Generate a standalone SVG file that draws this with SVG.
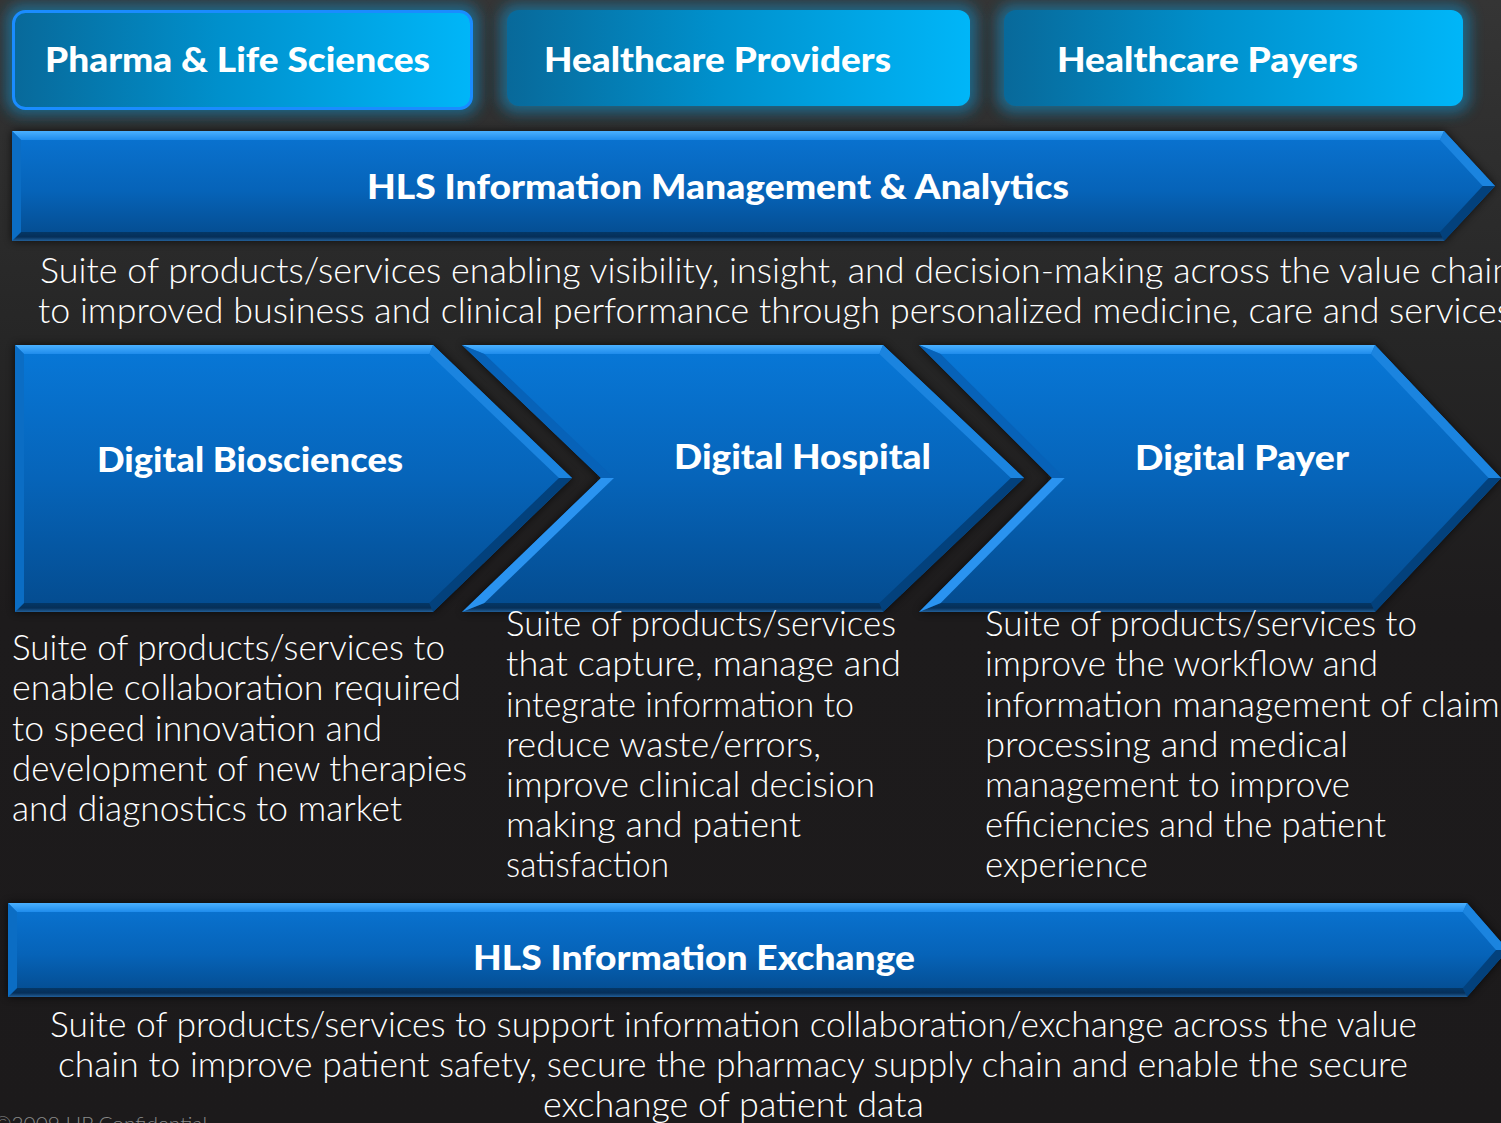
<svg xmlns="http://www.w3.org/2000/svg" width="1501" height="1123" viewBox="0 0 1501 1123">
<defs>
<linearGradient id="bg" x1="0" y1="0" x2="0" y2="1">
<stop offset="0" stop-color="#353535"/>
<stop offset="0.3" stop-color="#262626"/>
<stop offset="0.55" stop-color="#1d1b1c"/>
<stop offset="1" stop-color="#1c1a1b"/>
</linearGradient>
<linearGradient id="boxg" x1="0" y1="0" x2="1" y2="0">
<stop offset="0" stop-color="#08699a"/>
<stop offset="0.45" stop-color="#0090cc"/>
<stop offset="1" stop-color="#00b6f8"/>
</linearGradient>
<linearGradient id="chev" x1="0" y1="0" x2="0" y2="1">
<stop offset="0" stop-color="#0878d8"/>
<stop offset="0.5" stop-color="#0664b9"/>
<stop offset="1" stop-color="#044b8e"/>
</linearGradient>
<linearGradient id="ban" x1="0" y1="0" x2="0" y2="1">
<stop offset="0" stop-color="#0a74d2"/>
<stop offset="0.55" stop-color="#0663b8"/>
<stop offset="1" stop-color="#044a8c"/>
</linearGradient>
<linearGradient id="topband" x1="0" y1="0" x2="0" y2="1">
<stop offset="0" stop-color="#4ab0ff"/>
<stop offset="1" stop-color="#1f8cec"/>
</linearGradient>
<linearGradient id="botband" x1="0" y1="0" x2="0" y2="1">
<stop offset="0" stop-color="#043766"/>
<stop offset="0.55" stop-color="#062f58"/>
<stop offset="1" stop-color="#225f98"/>
</linearGradient>
<filter id="glow" x="-10%" y="-40%" width="120%" height="180%">
<feGaussianBlur stdDeviation="7"/>
</filter>
<filter id="shadow" x="-5%" y="-10%" width="110%" height="120%">
<feGaussianBlur stdDeviation="4"/>
</filter>
<style>
.title{font-family:Lato,"Open Sans","Liberation Sans",sans-serif;font-weight:900;fill:#ffffff;font-size:34px}
.body{font-family:Lato,"Open Sans","Liberation Sans",sans-serif;font-weight:300;fill:#ffffff;font-size:36px}
.foot{font-family:Lato,"Open Sans","Liberation Sans",sans-serif;font-weight:300;fill:#8a8a8a;font-size:20px}
.bt{fill:url(#topband)}
.bur{fill:#1b84df}
.blr{fill:#03417c}
.bb{fill:url(#botband)}
.bl{fill:#0b6dc4}
.bnl{fill:#2a93f0}
.bnu{fill:#0762b8}
.halo{fill:#1f7096;opacity:0.85}
.shd{fill:#111111;opacity:0.7}
</style>
</defs>
<rect x="0" y="0" width="1501" height="1123" fill="url(#bg)"/>

<g id="node-pharma">
<rect class="halo" x="6" y="4" width="473" height="111" rx="16" filter="url(#glow)"/>
<rect x="13.5" y="11.5" width="458" height="97" rx="12" fill="url(#boxg)" stroke="#1a8cff" stroke-width="3"/>
<text class="title" x="45" y="72" textLength="385" lengthAdjust="spacingAndGlyphs">Pharma &amp; Life Sciences</text>
</g>

<g id="node-providers">
<rect class="halo" x="500" y="4" width="477" height="109" rx="16" filter="url(#glow)"/>
<rect x="507" y="10" width="463" height="96" rx="12" fill="url(#boxg)"/>
<text class="title" x="544" y="72" textLength="347" lengthAdjust="spacingAndGlyphs">Healthcare Providers</text>
</g>

<g id="node-payers">
<rect class="halo" x="997" y="4" width="473" height="109" rx="16" filter="url(#glow)"/>
<rect x="1004" y="10" width="459" height="96" rx="12" fill="url(#boxg)"/>
<text class="title" x="1057" y="72" textLength="301" lengthAdjust="spacingAndGlyphs">Healthcare Payers</text>
</g>

<g id="node-hls-ima">
<polygon class="shd" points="12,131 1444,131 1495,186 1444,241 12,241" filter="url(#shadow)"/>
<polygon points="12,131 1444,131 1495,186 1444,241 12,241" fill="url(#ban)"/>
<polygon class="bt" points="12,131 1444,131 1440,140 21,140"/>
<polygon class="bur" points="1444,131 1495,186 1482.7,186 1440,140"/>
<polygon class="blr" points="1495,186 1444,241 1440,232 1482.7,186"/>
<polygon class="bb" points="1444,241 12,241 21,232 1440,232"/>
<polygon class="bl" points="12,241 12,131 21,140 21,232"/>
<text class="title" x="367" y="199" textLength="702" lengthAdjust="spacingAndGlyphs">HLS Information Management &amp; Analytics</text>
<text class="body" x="40" y="283" textLength="1472" lengthAdjust="spacingAndGlyphs">Suite of products/services enabling visibility, insight, and decision-making across the value chain</text>
<text class="body" x="38" y="323" textLength="1474" lengthAdjust="spacingAndGlyphs">to improved business and clinical performance through personalized medicine, care and services</text>
</g>

<g id="node-biosciences">
<polygon class="shd" points="15,345 433,345 572,478 433,612 15,612" filter="url(#shadow)"/>
<polygon points="15,345 433,345 572,478 433,612 15,612" fill="url(#chev)"/>
<polygon class="bt" points="15,345 433,345 429.4,354 24,354"/>
<polygon class="bur" points="433,345 572,478 559,478 429.4,354"/>
<polygon class="blr" points="572,478 433,612 429.4,603 559,478"/>
<polygon class="bb" points="433,612 15,612 24,603 429.4,603"/>
<polygon class="bl" points="15,612 15,345 24,354 24,603"/>
<text class="title" x="97" y="472" textLength="306" lengthAdjust="spacingAndGlyphs">Digital Biosciences</text>
<text class="body" x="12" y="660" textLength="433" lengthAdjust="spacingAndGlyphs">Suite of products/services to</text>
<text class="body" x="12" y="700" textLength="449" lengthAdjust="spacingAndGlyphs">enable collaboration required</text>
<text class="body" x="12" y="741" textLength="370" lengthAdjust="spacingAndGlyphs">to speed innovation and</text>
<text class="body" x="12" y="781" textLength="455" lengthAdjust="spacingAndGlyphs">development of new therapies</text>
<text class="body" x="12" y="821" textLength="390" lengthAdjust="spacingAndGlyphs">and diagnostics to market</text>
</g>

<g id="node-hospital">
<polygon class="shd" points="462,345 883,345 1024,478 883,612 462,612 601,478" filter="url(#shadow)"/>
<polygon points="462,345 883,345 1024,478 883,612 462,612 601,478" fill="url(#chev)"/>
<polygon class="bt" points="462,345 883,345 879.4,354 484.4,354"/>
<polygon class="bur" points="883,345 1024,478 1010.9,478 879.4,354"/>
<polygon class="blr" points="1024,478 883,612 879.4,603 1010.9,478"/>
<polygon class="bb" points="883,612 462,612 484.4,603 879.4,603"/>
<polygon class="bnl" points="462,612 601,478 614,478 484.4,603"/>
<polygon class="bnu" points="601,478 462,345 484.4,354 614,478"/>
<text class="title" x="674" y="469" textLength="257" lengthAdjust="spacingAndGlyphs">Digital Hospital</text>
<text class="body" x="506" y="636" textLength="390" lengthAdjust="spacingAndGlyphs">Suite of products/services</text>
<text class="body" x="506" y="676" textLength="395" lengthAdjust="spacingAndGlyphs">that capture, manage and</text>
<text class="body" x="506" y="717" textLength="348" lengthAdjust="spacingAndGlyphs">integrate information to</text>
<text class="body" x="506" y="757" textLength="315" lengthAdjust="spacingAndGlyphs">reduce waste/errors,</text>
<text class="body" x="506" y="797" textLength="369" lengthAdjust="spacingAndGlyphs">improve clinical decision</text>
<text class="body" x="506" y="837" textLength="295" lengthAdjust="spacingAndGlyphs">making and patient</text>
<text class="body" x="506" y="877" textLength="163" lengthAdjust="spacingAndGlyphs">satisfaction</text>
</g>

<g id="node-payer">
<polygon class="shd" points="919,345 1375,345 1501,478 1375,612 919,612 1052,478" filter="url(#shadow)"/>
<polygon points="919,345 1375,345 1501,478 1375,612 919,612 1052,478" fill="url(#chev)"/>
<polygon class="bt" points="919,345 1375,345 1371.1,354 940.7,354"/>
<polygon class="bur" points="1375,345 1501,478 1488.6,478 1371.1,354"/>
<polygon class="blr" points="1501,478 1375,612 1371.1,603 1488.6,478"/>
<polygon class="bb" points="1375,612 919,612 940.7,603 1371.1,603"/>
<polygon class="bnl" points="919,612 1052,478 1064.7,478 940.7,603"/>
<polygon class="bnu" points="1052,478 919,345 940.7,354 1064.7,478"/>
<text class="title" x="1135" y="470" textLength="214" lengthAdjust="spacingAndGlyphs">Digital Payer</text>
<text class="body" x="985" y="636" textLength="432" lengthAdjust="spacingAndGlyphs">Suite of products/services to</text>
<text class="body" x="985" y="676" textLength="393" lengthAdjust="spacingAndGlyphs">improve the workflow and</text>
<text class="body" x="985" y="717" textLength="530" lengthAdjust="spacingAndGlyphs">information management of claims</text>
<text class="body" x="985" y="757" textLength="363" lengthAdjust="spacingAndGlyphs">processing and medical</text>
<text class="body" x="985" y="797" textLength="365" lengthAdjust="spacingAndGlyphs">management to improve</text>
<text class="body" x="985" y="837" textLength="401" lengthAdjust="spacingAndGlyphs">efficiencies and the patient</text>
<text class="body" x="985" y="877" textLength="163" lengthAdjust="spacingAndGlyphs">experience</text>
</g>

<g id="node-hls-ie">
<polygon class="shd" points="8,903 1467,903 1508,950 1467,997 8,997" filter="url(#shadow)"/>
<polygon points="8,903 1467,903 1508,950 1467,997 8,997" fill="url(#ban)"/>
<polygon class="bt" points="8,903 1467,903 1462.9,912 17,912"/>
<polygon class="bur" points="1467,903 1508,950 1496,950 1462.9,912"/>
<polygon class="blr" points="1508,950 1467,997 1462.9,988 1496,950"/>
<polygon class="bb" points="1467,997 8,997 17,988 1462.9,988"/>
<polygon class="bl" points="8,997 8,903 17,912 17,988"/>
<text class="title" x="473" y="970" textLength="442" lengthAdjust="spacingAndGlyphs">HLS Information Exchange</text>
<text class="body" x="50" y="1037" textLength="1367" lengthAdjust="spacingAndGlyphs">Suite of products/services to support information collaboration/exchange across the value</text>
<text class="body" x="58" y="1077" textLength="1350" lengthAdjust="spacingAndGlyphs">chain to improve patient safety, secure the pharmacy supply chain and enable the secure</text>
<text class="body" x="543" y="1117" textLength="381" lengthAdjust="spacingAndGlyphs">exchange of patient data</text>
</g>

<g id="connectors"/>

<text class="foot" x="-6" y="1131" textLength="213" lengthAdjust="spacingAndGlyphs">©2009 HP Confidential</text>
</svg>
